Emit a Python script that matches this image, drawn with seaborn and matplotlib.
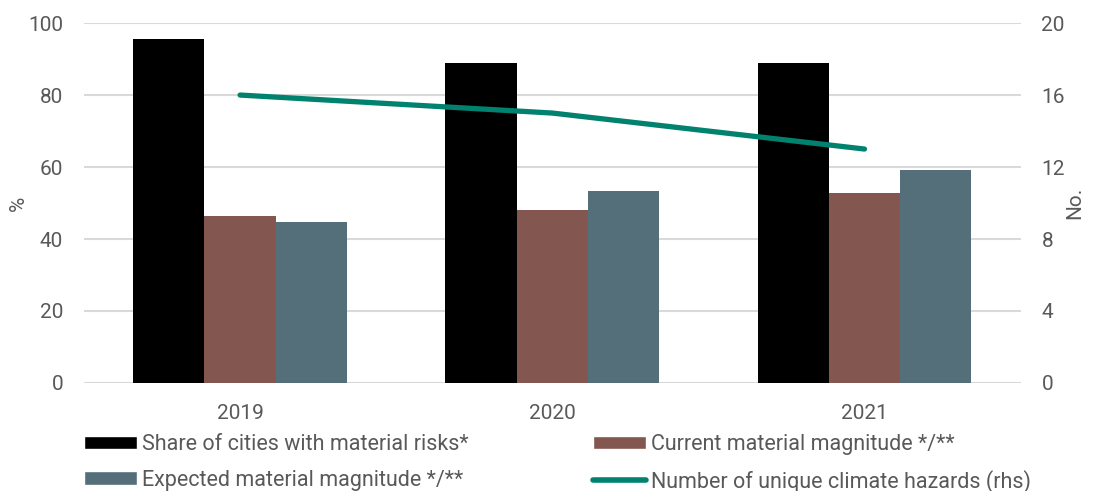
import numpy as np
import pandas as pd
import matplotlib
matplotlib.use("Agg")
import matplotlib.pyplot as plt
import seaborn as sns
from matplotlib.patches import Patch
from matplotlib.lines import Line2D

years = ["2019", "2020", "2021"]
share_material = [95.6, 88.9, 88.9]
current_magnitude = [46.4, 48.1, 52.9]
expected_magnitude = [44.7, 53.3, 59.2]
unique_hazards = [16, 15, 13]

series_names = [
    "Share of cities with material risks*",
    "Current material magnitude */**",
    "Expected material magnitude */**",
]
line_name = "Number of unique climate hazards (rhs)"
colors = ["#000000", "#835750", "#546E7A"]
line_color = "#00826F"
text_color = "#595959"
grid_color = "#D9D9D9"
fs = 15

df = pd.DataFrame({
    "year": years * 3,
    "series": sum([[s] * 3 for s in series_names], []),
    "value": share_material + current_magnitude + expected_magnitude,
})

sns.set_theme(style="white")
plt.rcParams["font.family"] = ["Roboto", "DejaVu Sans"]

fig = plt.figure(figsize=(10.98, 4.91), dpi=100)
ax = fig.add_axes([0.0765, 0.22, 0.853, 0.733])

sns.barplot(data=df, x="year", y="value", hue="series", hue_order=series_names,
            palette=colors, width=0.685, saturation=1, ax=ax, legend=False,
            edgecolor="none", linewidth=0)

ax.set_ylim(0, 100)
ax.set_yticks(np.arange(0, 101, 20))
ax.set_xlim(-0.5, 2.5)
ax.set_xlabel("")
ax.set_ylabel("%", color=text_color, fontsize=fs)
ax.yaxis.set_label_coords(-0.06, 0.5)
ax.yaxis.grid(True, color=grid_color, linewidth=1.5)
ax.set_axisbelow(True)
for s in ax.spines.values():
    s.set_visible(False)
ax.tick_params(axis="both", colors=text_color, labelsize=fs, length=0)
ax.tick_params(axis="y", pad=15)
ax.tick_params(axis="x", pad=15)

ax2 = ax.twinx()
ax2.plot(range(len(years)), unique_hazards, color=line_color, linewidth=3.8,
         solid_capstyle="round")
ax2.set_ylim(0, 20)
ax2.set_yticks(np.arange(0, 21, 4))
for s in ax2.spines.values():
    s.set_visible(False)
ax2.grid(False)
ax2.tick_params(axis="y", colors=text_color, labelsize=fs, length=0, pad=15)
ax2.set_ylabel("No.", color=text_color, fontsize=fs)
ax2.yaxis.set_label_coords(1.048, 0.5)

legend_kw = dict(loc="upper left", frameon=False, fontsize=15.5, handlelength=2.45,
                 handleheight=0.6, handletextpad=0.25, labelspacing=0.68,
                 borderaxespad=0, borderpad=0, labelcolor=text_color)
col1 = [
    Patch(facecolor=colors[0], label=series_names[0]),
    Patch(facecolor=colors[2], label=series_names[2]),
]
col2 = [
    Patch(facecolor=colors[1], label=series_names[1]),
    Line2D([0], [0], color=line_color, linewidth=4, solid_capstyle="round", label=line_name),
]
leg1 = fig.legend(handles=col1, bbox_to_anchor=(84 / 1098, 0.116), **legend_kw)
leg2 = fig.legend(handles=col2, bbox_to_anchor=(593 / 1098, 0.116), **legend_kw)

fig.savefig("out.png", dpi=100)
